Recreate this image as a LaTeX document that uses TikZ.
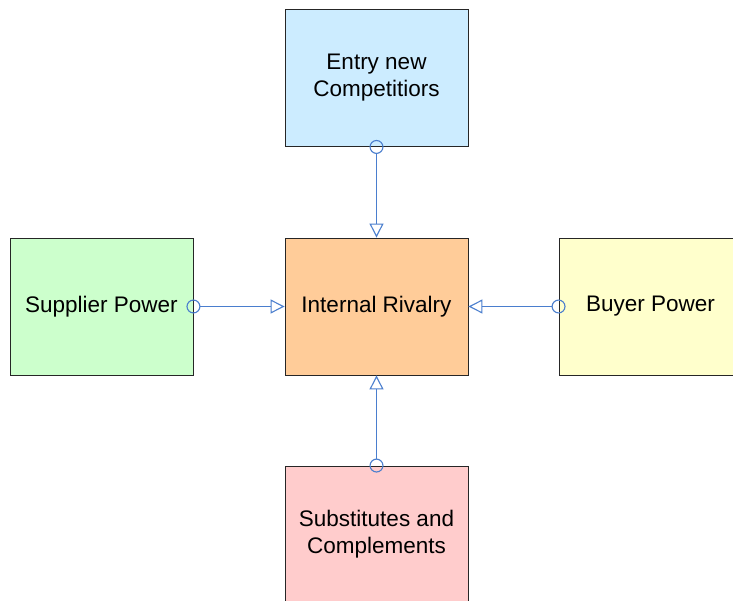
\documentclass[tikz,border=0pt]{standalone}
\usepackage{fontspec}
\setmainfont{Liberation Sans}
\usetikzlibrary{arrows.meta}
\definecolor{linkblue}{RGB}{74,126,206}
\definecolor{boxblue}{RGB}{204,236,255}
\definecolor{boxgreen}{RGB}{204,255,204}
\definecolor{boxorange}{RGB}{255,204,153}
\definecolor{boxyellow}{RGB}{255,255,204}
\definecolor{boxpink}{RGB}{255,204,204}
\tikzset{
  force/.style={draw=black!85, line width=0.9pt, minimum width=183pt, minimum height=137pt,
    inner sep=0pt, align=center, font=\fontsize{22.5}{27}\selectfont},
  link/.style={draw=linkblue, line width=1.2pt,
    {Circle[open,length=14pt,width=14pt,line width=1.1pt]}-{Triangle[open,length=14pt,width=14pt,line width=1.1pt]},
    shorten <=-7pt}
}
\begin{document}
\begin{tikzpicture}[x=1pt,y=-1pt]
\useasboundingbox (0,0) rectangle (733,601);
\clip (0,0) rectangle (733,601);
\fill[white] (0,0) rectangle (733,601);
\node[force, fill=boxblue] (entry) at (376.5,78) {Entry new\\Competitiors};
\node[force, fill=boxgreen] (supplier) at (101.5,306.5) {Supplier Power};
\node[force, fill=boxorange] (rivalry) at (376.5,306.5) {Internal Rivalry};
\node[force, fill=boxyellow] (buyer) at (650.5,306.5) {Buyer Power};
\node[force, fill=boxpink] (subst) at (376.5,534.5) {Substitutes and\\Complements};
\draw[link] (entry.south) -- (rivalry.north);
\draw[link] (supplier.east) -- (rivalry.west);
\draw[link] (buyer.west) -- (rivalry.east);
\draw[link] (subst.north) -- (rivalry.south);
\end{tikzpicture}
\end{document}
